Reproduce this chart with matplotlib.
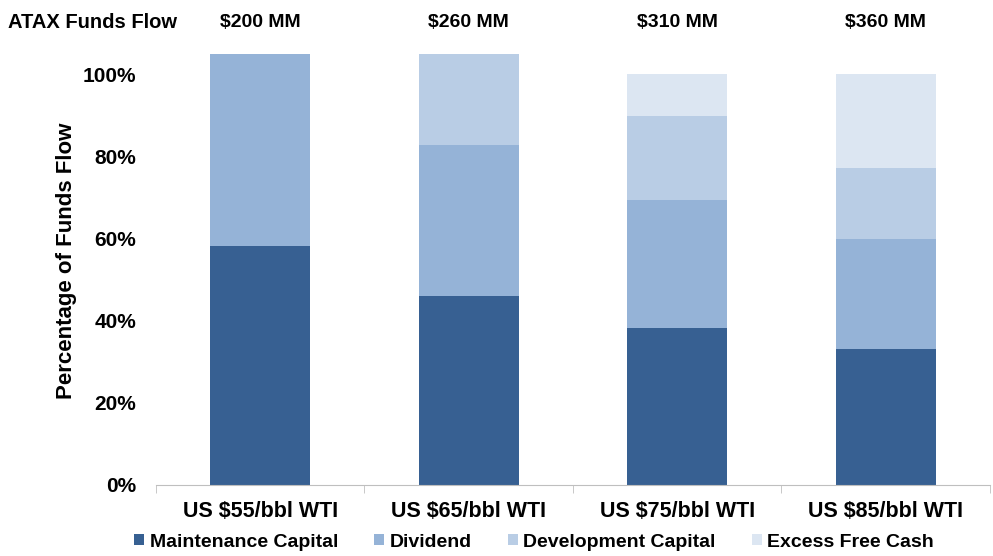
import numpy as np
import matplotlib.pyplot as plt

plt.rcParams['font.family'] = ['Liberation Sans', 'DejaVu Sans']
plt.rcParams['font.weight'] = 'bold'

# Data (percent of funds flow)
scenarios = ["US $55/bbl WTI", "US $65/bbl WTI", "US $75/bbl WTI", "US $85/bbl WTI"]
funds_flow = ["$200 MM", "$260 MM", "$310 MM", "$360 MM"]
maintenance = [58.3, 45.9, 38.3, 33.2]
dividend = [49.7, 37.0, 31.0, 26.6]
development = [0.0, 25.1, 20.5, 17.5]
excess_cash = [0.0, 0.0, 10.2, 22.7]

series = [
    ("Maintenance Capital", maintenance, "#376092"),
    ("Dividend", dividend, "#95B3D7"),
    ("Development Capital", development, "#B9CDE5"),
    ("Excess Free Cash", excess_cash, "#DCE6F2"),
]

fig = plt.figure(figsize=(9.93, 5.56), dpi=100)
ax = fig.add_axes([0.157, 0.128, 0.84, 0.775])

x = np.arange(len(scenarios))
bottom = np.zeros(len(scenarios))
for name, vals, color in series:
    ax.bar(x, vals, width=0.48, bottom=bottom, color=color, label=name, zorder=2)
    bottom += np.array(vals)

ax.set_xlim(-0.5, len(scenarios) - 0.5)
ax.set_ylim(0, 105)
ax.set_yticks(np.arange(0, 101, 20))
ax.set_yticklabels([f"{v}%" for v in range(0, 101, 20)], fontsize=15, fontweight='bold')
ax.set_xticks(x)
ax.set_xticklabels(scenarios, fontsize=15.5, fontweight='bold')
ax.tick_params(axis='y', length=0, pad=14)
ax.tick_params(axis='x', length=0, pad=12)
# category boundary ticks
ax.set_xticks(np.arange(-0.5, len(scenarios), 1), minor=True)
ax.tick_params(axis='x', which='minor', length=6, color='#BFBFBF', direction='out')

for side in ['top', 'right', 'left']:
    ax.spines[side].set_visible(False)
ax.spines['bottom'].set_color('#BFBFBF')

ax.set_ylabel("Percentage of Funds Flow", fontsize=16, fontweight='bold')
ax.yaxis.set_label_coords(-0.095, 0.52)

# funds flow header
fig.text(0.008, 0.96, "ATAX Funds Flow", fontsize=14.5, fontweight='bold', va='center', ha='left')
for i, lab in enumerate(funds_flow):
    xf = ax.transData.transform((x[i], 0))[0]
    xf = fig.transFigure.inverted().transform((xf, 0))[0]
    fig.text(xf, 0.96, lab, fontsize=14, fontweight='bold', va='center', ha='center')

handles, labels = ax.get_legend_handles_labels()
fig.legend(handles, labels, loc='center', bbox_to_anchor=(0.538, 0.025), ncol=4,
           frameon=False, fontsize=14, handlelength=0.5, handleheight=0.5,
           handletextpad=0.3, columnspacing=1.85)

fig.savefig("out.png", dpi=100)
